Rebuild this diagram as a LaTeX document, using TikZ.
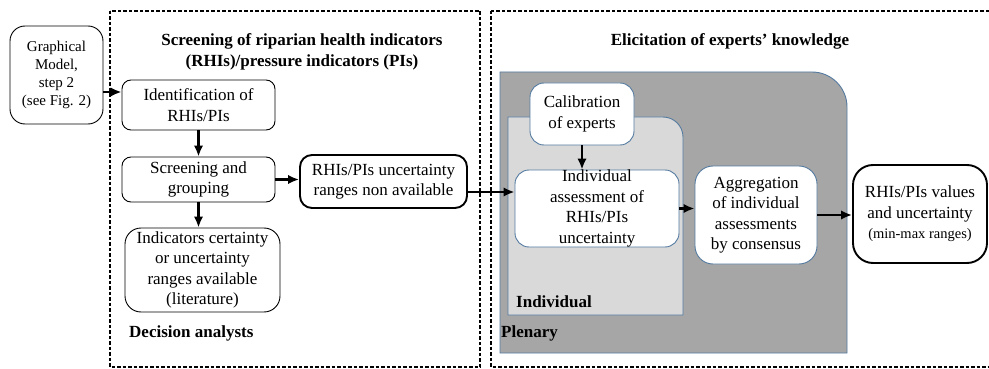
\documentclass[tikz,border=0pt]{standalone}
\usepackage{fontspec}
\setmainfont{Liberation Serif}
\usetikzlibrary{arrows.meta}

\definecolor{paneedge}{RGB}{84,122,160}
\definecolor{plenaryfill}{RGB}{166,166,166}
\definecolor{indivfill}{RGB}{217,217,217}

\tikzset{
  box/.style={draw, fill=white, rounded corners=9pt, align=center, inner sep=0pt, line width=0.9pt, font=\fontsize{17}{20.5}\selectfont},
  thickbox/.style={box, line width=1.9pt, rounded corners=12pt},
  panebox/.style={box, draw=paneedge, rounded corners=14pt},
  flow/.style={line width=2.2pt, -{Latex[length=11pt,width=9.5pt]}},
  heading/.style={font=\fontsize{17}{21}\selectfont\bfseries, align=center, inner sep=0pt},
  zone/.style={line width=1.3pt, dash pattern=on 3.5pt off 2pt},
}

\begin{document}
\begin{tikzpicture}[x=1pt,y=1pt,yscale=-1]
\useasboundingbox (0,0) rectangle (989,369);

%Shape: dashed frames
\draw [zone] (110,11) rectangle (480,367);
\draw [zone] (491,11) rectangle (1000,367);

%Shape: Plenary pane, top right corner rounded
\draw [draw=paneedge, fill=plenaryfill, line width=0.9pt] (500,353) -- (500,72) -- (812,72) arc [start angle=-90, end angle=0, radius=35] -- (847,353) -- cycle;
%Shape: Individual pane
\draw [draw=paneedge, fill=indivfill, line width=0.9pt] (508,315) -- (508,117) -- (663,117) arc [start angle=-90, end angle=0, radius=20] -- (683,315) -- cycle;

% Row heights of the two long connectors
\coordinate (inrow) at (0,92);
\coordinate (outrow) at (0,192);

% Boxes, left part
\node (model) at (56.5,75) [box, rounded corners=15pt, minimum width=93pt, minimum height=98pt, font=\fontsize{15}{18}\selectfont] {Graphical\\Model,\\step 2\\(see Fig. 2)};
\node (ident) at (198.5,105) [box, minimum width=153pt, minimum height=50pt] {Identification of\\RHIs/PIs};
\node (screen) at (198.5,179.5) [box, minimum width=153pt, minimum height=45pt] {Screening and\\grouping};
\node (avail) at (202.5,270) [box, rounded corners=16pt, minimum width=155pt, minimum height=84pt] {Indicators certainty\\or uncertainty\\ranges available\\(literature)};
\node (nonavail) at (383.5,181.5) [thickbox, minimum width=167pt, minimum height=53pt] {RHIs/PIs uncertainty\\ranges non available};

% Boxes, right part
\node (calib) at (582,114) [panebox, minimum width=104pt, minimum height=62pt] {Calibration\\of experts};
\node (indiv) at (597,208.5) [panebox, minimum width=164pt, minimum height=77pt] {Individual\\assessment of\\RHIs/PIs\\uncertainty};
\node (aggr) at (756,215) [panebox, rounded corners=18pt, minimum width=122pt, minimum height=98pt] {Aggregation\\of individual\\assessments\\by consensus};
\node (result) at (920,214) [thickbox, rounded corners=20pt, minimum width=134pt, minimum height=98pt] {RHIs/PIs values\\and uncertainty\\{\fontsize{14.5}{18}\selectfont (min-max ranges)}};

% Text Node
\node (scrtitle) at (302,51.5) [heading] {Screening of riparian health indicators\\(RHIs)/pressure indicators (PIs)};
% Text Node
\node (elitle) at (730,41) [heading] {Elicitation of experts’ knowledge};
% Text Node
\node (analysts) at (129,333) [heading, anchor=west] {Decision analysts};
% Text Node
\node (indlabel) at (516,302) [heading, anchor=west] {Individual};
% Text Node
\node (plenlabel) at (501,333) [heading, anchor=west] {Plenary};

% Connectors
\draw [flow] (model.east |- inrow) -- (ident.west |- inrow);
\draw [flow] (ident.south) -- (screen.north);
\draw [flow] (screen.south) -- (screen.south |- avail.north);
\draw [flow] (screen.east) -- (screen.east -| nonavail.west);
\draw [flow] (nonavail.east |- outrow) -- (indiv.west |- outrow);
\draw [flow] (calib.south) -- (calib.south |- indiv.north);
\draw [flow] (indiv.east) -- (indiv.east -| aggr.west);
\draw [flow] (aggr.east) -- (aggr.east -| result.west);

\end{tikzpicture}
\end{document}
